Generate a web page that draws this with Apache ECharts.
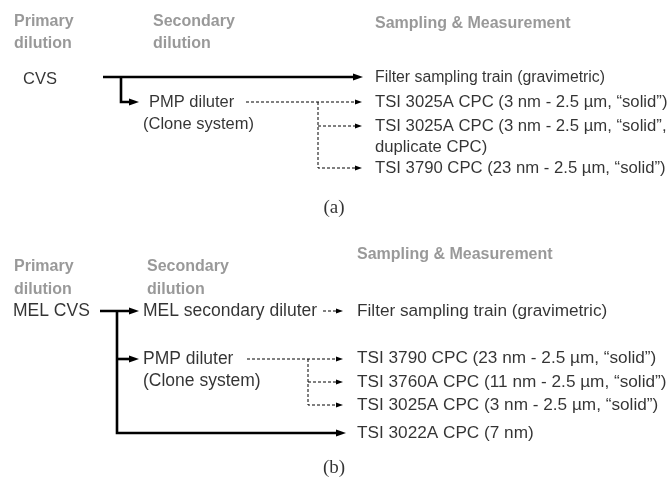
<!DOCTYPE html>
<html><head><meta charset="utf-8">
<script src="https://cdn.jsdelivr.net/npm/echarts@6/dist/echarts.min.js"></script>
<style>html,body{margin:0;padding:0;background:#fff}#c{width:672px;height:485px}</style>
</head><body><div id="c"></div>
<script>
// ---- Panel (a) ----
const headersA = [['Primary',14,22],['dilution',14,44],['Secondary',153,22],['dilution',153,44],['Sampling & Measurement',375,24]];
const nodesA = [['CVS',23,79],['PMP diluter',149,102],['(Clone system)',143,124]];
const filterA = [['Filter sampling train (gravimetric)',375,78]];
const outputsA = [
  ['TSI 3025A CPC (3 nm - 2.5 µm, “solid”)',375,102],
  ['TSI 3025A CPC (3 nm - 2.5 µm, “solid”,',375,126],
  ['duplicate CPC)',375,147],
  ['TSI 3790 CPC (23 nm - 2.5 µm, “solid”)',375,168]
];
const solidPathsA = [[[103,77],[363,77]],[[121,77],[121,102],[139,102]]];
const dashedPathsA = [[[246,102],[362,102]],[[318,102],[318,168],[362,168]],[[318,126],[362,126]]];

// ---- Panel (b) ----
const headersB = [['Primary',14,267],['dilution',14,290],['Secondary',147,267],['dilution',147,290],['Sampling & Measurement',357,255]];
const nodesB = [['MEL CVS',13,311],['MEL secondary diluter',143,311],['PMP diluter',143,359],['(Clone system)',143,381]];
const outputsB = [
  ['Filter sampling train (gravimetric)',357,311],
  ['TSI 3790 CPC (23 nm - 2.5 µm, “solid”)',357,358],
  ['TSI 3760A CPC (11 nm - 2.5 µm, “solid”)',357,382],
  ['TSI 3025A CPC (3 nm - 2.5 µm, “solid”)',357,405],
  ['TSI 3022A CPC (7 nm)',357,433]
];
const solidPathsB = [[[100,311],[139,311]],[[117,311],[117,433],[346,433]],[[117,359],[139,359]]];
const dashedPathsB = [[[323,311],[343,311]],[[247,359],[343,359]],[[308,359],[308,405],[343,405]],[[308,382],[343,382]]];

const captions = [['(a)',334,208],['(b)',334,468]];

// ---- build ----
const SOLID_HEAD = [7,10], DASH_HEAD = [5,7];
function shorten(paths, len){
  return paths.map(p=>{
    const q = p.map(pt=>pt.slice());
    const a = q[q.length-2], b = q[q.length-1];
    const dx = b[0]-a[0], dy = b[1]-a[1], d = Math.hypot(dx,dy);
    b[0] -= dx/d*len; b[1] -= dy/d*len;
    return {coords:q};
  });
}
function heads(paths, len){
  return paths.map(p=>{ const b = p[p.length-1]; return [b[0]-len/2, b[1]]; });
}
function textSeries(list, label){
  return {type:'scatter', symbolSize:0, silent:true, z:5,
    data:list.map(t=>({name:t[0], value:[t[1],t[2]]})),
    label:Object.assign({show:true, position:'right', distance:0, formatter:p=>p.name}, label)};
}
const solidPaths = solidPathsA.concat(solidPathsB);
const dashedPaths = dashedPathsA.concat(dashedPathsB);

const chart = echarts.init(document.getElementById('c'));
chart.setOption({
  animation:false,
  grid:{left:0,right:0,top:0,bottom:0},
  xAxis:{type:'value',min:0,max:672,show:false},
  yAxis:{type:'value',min:0,max:485,inverse:true,show:false},
  series:[
    {type:'lines', coordinateSystem:'cartesian2d', polyline:true, silent:true,
     data:shorten(solidPaths, SOLID_HEAD[1]*0.6),
     lineStyle:{color:'#000', width:2.6, opacity:1, type:'solid', join:'miter'}},
    {type:'lines', coordinateSystem:'cartesian2d', polyline:true, silent:true,
     data:shorten(dashedPaths, DASH_HEAD[1]*0.5),
     lineStyle:{color:'#000', width:1, opacity:1, type:[3,2]}},
    {type:'scatter', silent:true, symbol:'triangle', symbolRotate:-90, symbolSize:SOLID_HEAD,
     itemStyle:{color:'#000', opacity:1}, data:heads(solidPaths, SOLID_HEAD[1])},
    {type:'scatter', silent:true, symbol:'triangle', symbolRotate:-90, symbolSize:DASH_HEAD,
     itemStyle:{color:'#000', opacity:1}, data:heads(dashedPaths, DASH_HEAD[1])},
    textSeries(headersA.concat(headersB), {color:'#7f7f7f', fontFamily:'Liberation Sans', fontWeight:'bold', fontSize:16}),
    textSeries(nodesA, {color:'#000', fontFamily:'Liberation Sans', fontSize:16.5}),
    textSeries(filterA, {color:'#000', fontFamily:'Liberation Sans', fontSize:15.8}),
    textSeries(outputsA, {color:'#000', fontFamily:'Liberation Sans', fontSize:16.7}),
    textSeries(nodesB, {color:'#000', fontFamily:'Liberation Sans', fontSize:17.5}),
    textSeries(outputsB, {color:'#000', fontFamily:'Liberation Sans', fontSize:17.2}),
    {type:'scatter', symbolSize:0, silent:true,
     data:captions.map(t=>({name:t[0], value:[t[1],t[2]]})),
     label:{show:true, position:'inside', formatter:p=>p.name, color:'#000', fontFamily:'Liberation Serif', fontSize:19}}
  ]
});
</script></body></html>
